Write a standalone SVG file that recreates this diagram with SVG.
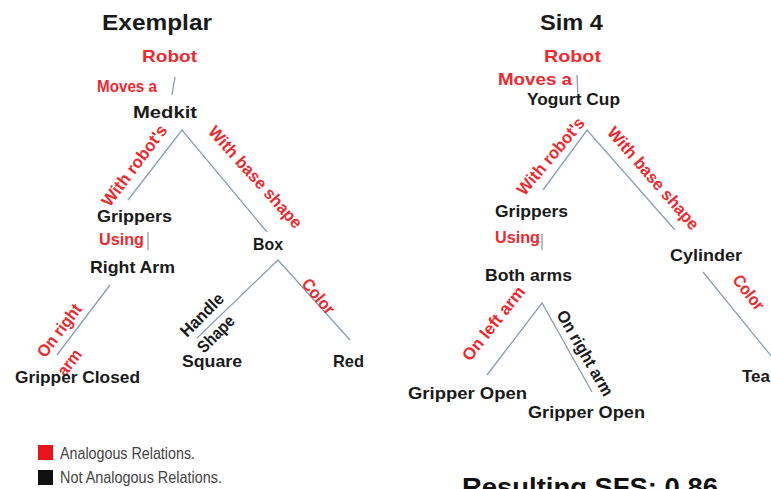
<svg xmlns="http://www.w3.org/2000/svg" width="771" height="489" viewBox="0 0 771 489">
<style>
text{font-family:"Liberation Sans",Arial,sans-serif}
.t{font-size:22px;font-weight:bold;fill:#1a1a1a}
.n{font-size:17px;font-weight:bold;fill:#1a1a1a}
.r{font-size:17px;font-weight:bold;fill:#ee2a2f}
.k{font-size:17px;font-weight:bold;fill:#1a1a1a}
.m{text-anchor:middle}
.e{stroke:#8c9db4;stroke-width:1.3;fill:none}
.lg{font-size:17px;fill:#444}
</style>
<rect width="771" height="489" fill="#fff"/>
<text class="t" x="102" y="30" textLength="110" lengthAdjust="spacingAndGlyphs">Exemplar</text>
<text class="t" x="540" y="30" textLength="63" lengthAdjust="spacingAndGlyphs">Sim 4</text>

<g id="connectors">
<path class="e" d="M175 77L172 95"/>
<path class="e" d="M128 200L182 130L267 232"/>
<path class="e" d="M148 232V250"/>
<path class="e" d="M110 285L57 355"/>
<path class="e" d="M197 338L278 260L350 340"/>
<path class="e" d="M577 75L578 97"/>
<path class="e" d="M543 190L587 130L675 230"/>
<path class="e" d="M542 234V250"/>
<path class="e" d="M487 375L542 303L592 392"/>
<path class="e" d="M703 272L776 362"/>
<g id="relation-labels">
<text class="r" x="97" y="92" textLength="60" lengthAdjust="spacingAndGlyphs">Moves a</text>
<text class="r m" transform="translate(139 169) rotate(-53)" textLength="97" lengthAdjust="spacingAndGlyphs">With robot's</text>
<text class="r m" transform="translate(251 181) rotate(48)" textLength="131" lengthAdjust="spacingAndGlyphs">With base shape</text>
<text class="r" x="99" y="245" textLength="45" lengthAdjust="spacingAndGlyphs">Using</text>
<text class="r m" transform="translate(64 334) rotate(-53)" textLength="62" lengthAdjust="spacingAndGlyphs">On right</text>
<text class="r m" transform="translate(74 366) rotate(-53)" textLength="29" lengthAdjust="spacingAndGlyphs">arm</text>
<text class="k m" transform="translate(206 319) rotate(-45)" textLength="54" lengthAdjust="spacingAndGlyphs">Handle</text>
<text class="k m" transform="translate(220 338) rotate(-45)" textLength="45" lengthAdjust="spacingAndGlyphs">Shape</text>
<text class="r m" transform="translate(314 300) rotate(50)" textLength="41" lengthAdjust="spacingAndGlyphs">Color</text>
<text class="r" x="498" y="85" textLength="74" lengthAdjust="spacingAndGlyphs">Moves a</text>
<text class="r m" transform="translate(555 160) rotate(-50)" textLength="95" lengthAdjust="spacingAndGlyphs">With robot's</text>
<text class="r m" transform="translate(649 182) rotate(49)" textLength="130" lengthAdjust="spacingAndGlyphs">With base shape</text>
<text class="r" x="495" y="243" textLength="45" lengthAdjust="spacingAndGlyphs">Using</text>
<text class="r m" transform="translate(498 327) rotate(-51.5)" textLength="90" lengthAdjust="spacingAndGlyphs">On left arm</text>
<text class="k m" transform="translate(580 356) rotate(60)" textLength="96" lengthAdjust="spacingAndGlyphs">On right arm</text>
<text class="r m" transform="translate(744 296) rotate(52)" textLength="40" lengthAdjust="spacingAndGlyphs">Color</text>
</g>
</g>

<g id="ex-robot"><text class="r" x="142" y="62" textLength="55" lengthAdjust="spacingAndGlyphs">Robot</text></g>
<g id="ex-medkit"><text class="n" x="133" y="118" textLength="64" lengthAdjust="spacingAndGlyphs">Medkit</text></g>
<g id="ex-grippers"><text class="n" x="97" y="222" textLength="75" lengthAdjust="spacingAndGlyphs">Grippers</text></g>
<g id="ex-box"><text class="n" x="253" y="250" textLength="30" lengthAdjust="spacingAndGlyphs">Box</text></g>
<g id="ex-rightarm"><text class="n" x="90" y="273" textLength="85" lengthAdjust="spacingAndGlyphs">Right Arm</text></g>
<g id="ex-gripperclosed"><text class="n" x="15" y="383" textLength="125" lengthAdjust="spacingAndGlyphs">Gripper Closed</text></g>
<g id="ex-square"><text class="n" x="182" y="367" textLength="60" lengthAdjust="spacingAndGlyphs">Square</text></g>
<g id="ex-red"><text class="n" x="333" y="367" textLength="31" lengthAdjust="spacingAndGlyphs">Red</text></g>

<g id="sim-robot"><text class="r" x="544" y="62" textLength="57" lengthAdjust="spacingAndGlyphs">Robot</text></g>
<g id="sim-yogurtcup"><text class="n" x="527" y="105" textLength="93" lengthAdjust="spacingAndGlyphs">Yogurt Cup</text></g>
<g id="sim-grippers"><text class="n" x="495" y="217" textLength="73" lengthAdjust="spacingAndGlyphs">Grippers</text></g>
<g id="sim-cylinder"><text class="n" x="670" y="261" textLength="72" lengthAdjust="spacingAndGlyphs">Cylinder</text></g>
<g id="sim-botharms"><text class="n" x="485" y="281" textLength="87" lengthAdjust="spacingAndGlyphs">Both arms</text></g>
<g id="sim-gripperopen1"><text class="n" x="408" y="399" textLength="119" lengthAdjust="spacingAndGlyphs">Gripper Open</text></g>
<g id="sim-gripperopen2"><text class="n" x="528" y="418" textLength="117" lengthAdjust="spacingAndGlyphs">Gripper Open</text></g>
<g id="sim-tea"><text class="n" x="742" y="382">Tea</text></g>

<g id="legend">
<rect x="38" y="445" width="15" height="15" fill="#e8141b"/>
<text class="lg" x="60" y="459" textLength="135" lengthAdjust="spacingAndGlyphs">Analogous Relations.</text>
<rect x="38" y="470" width="15" height="15" fill="#111"/>
<text class="lg" x="60" y="483" textLength="162" lengthAdjust="spacingAndGlyphs">Not Analogous Relations.</text>
</g>
<text x="462" y="496" style="font-size:26px;font-weight:bold;fill:#111" textLength="256" lengthAdjust="spacingAndGlyphs">Resulting SFS: 0.86</text>
</svg>
